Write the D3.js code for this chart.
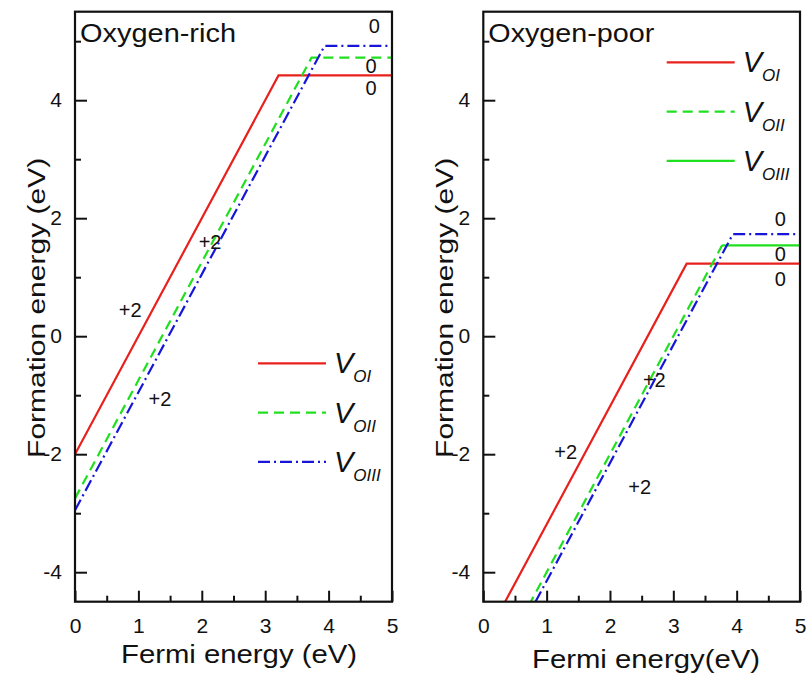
<!DOCTYPE html>
<html>
<head>
<meta charset="utf-8">
<script src="https://cdn.jsdelivr.net/npm/d3@7"></script>
<style>
  body { margin: 0; background: #fff; }
  svg text { font-family: "Liberation Sans", Arial, sans-serif; fill: #111; }
</style>
</head>
<body>
<div id="chart"></div>
<script>
// tick values
const xTicks = [0, 1, 2, 3, 4, 5];
const xMinorTicks = [0.5, 1.5, 2.5, 3.5, 4.5];
const yTicks = [-4, -2, 0, 2, 4];
const yMinorTicks = [-3, -1, 1, 3, 5];

// series labels (subscripts of V)
const seriesNames = ['OI', 'OII', 'OIII'];

// oxygen-rich: [fermi energy, formation energy]
const richOI = [[0, -2.0], [3.21, 4.42], [5, 4.42]];
const richOII = [[0, -2.75], [3.73, 4.72], [5, 4.72]];
const richOIII = [[0, -2.95], [3.935, 4.92], [5, 4.92]];

// oxygen-poor
const poorOI = [[0, -5.19], [3.21, 1.23], [5, 1.23]];
const poorOII = [[0, -6.0], [3.77, 1.54], [5, 1.54]];
const poorOIII = [[0, -6.15], [3.94, 1.73], [5, 1.73]];

// charge state labels [x, y, text]
const richCharges = [[0.87, 0.44, '+2'], [2.13, 1.6, '+2'], [1.34, -1.06, '+2'],
  [4.72, 5.26, '0'], [4.67, 4.58, '0'], [4.67, 4.2, '0']];
const poorCharges = [[1.3, -1.97, '+2'], [2.7, -0.74, '+2'], [2.47, -2.55, '+2'],
  [4.69, 1.98, '0'], [4.69, 1.39, '0'], [4.69, 0.97, '0']];

const W = 806, H = 676;
const colors = ['#e8211d', '#1fe01f', '#1616d8'];

const svg = d3.select('#chart').append('svg')
  .attr('width', W).attr('height', H);

function drawPanel(opts) {
  const x = d3.scaleLinear().domain([0, 5]).range([opts.left, opts.right]);
  const y = d3.scaleLinear().domain([-4.5, 5.5]).range([601.7, 11.7]);
  const g = svg.append('g');

  const clipId = 'clip-' + opts.id;
  svg.append('clipPath').attr('id', clipId)
    .append('rect')
    .attr('x', opts.left).attr('y', 11.7)
    .attr('width', opts.right - opts.left).attr('height', 590);

  const line = d3.line().x(d => x(d[0])).y(d => y(d[1]));
  const plot = g.append('g').attr('clip-path', `url(#${clipId})`);

  opts.series.forEach((pts, i) => {
    const st = opts.styles[i];
    if (st.plateauSolid) {
      plot.append('path').datum(pts.slice(0, 2))
        .attr('d', line).attr('fill', 'none')
        .attr('stroke', colors[i]).attr('stroke-width', 2.2)
        .attr('stroke-dasharray', st.dash);
      plot.append('path').datum(pts.slice(1))
        .attr('d', line).attr('fill', 'none')
        .attr('stroke', colors[i]).attr('stroke-width', 2.2);
    } else {
      plot.append('path').datum(pts)
        .attr('d', line).attr('fill', 'none')
        .attr('stroke', colors[i]).attr('stroke-width', 2.2)
        .attr('stroke-dasharray', st.dash);
    }
  });

  // axes with inward ticks
  const xAxis = g.append('g').attr('transform', `translate(0,${y(-4.5)})`)
    .call(d3.axisBottom(x).tickValues(xTicks).tickSizeInner(-11).tickSizeOuter(0).tickFormat(d => String(d)));
  g.append('g').attr('transform', `translate(0,${y(-4.5)})`)
    .call(d3.axisBottom(x).tickValues(xMinorTicks).tickSizeInner(-6).tickSizeOuter(0).tickFormat(''));
  const yAxis = g.append('g').attr('transform', `translate(${opts.left},0)`)
    .call(d3.axisLeft(y).tickValues(yTicks).tickSizeInner(-12).tickSizeOuter(0).tickFormat(d => String(d)));
  g.append('g').attr('transform', `translate(${opts.left},0)`)
    .call(d3.axisLeft(y).tickValues(yMinorTicks).tickSizeInner(-6).tickSizeOuter(0).tickFormat(''));

  g.selectAll('.domain').remove();
  g.selectAll('.tick line').attr('stroke', '#111').attr('stroke-width', 2);
  xAxis.selectAll('text').attr('font-size', 21).attr('fill', '#111').attr('y', 16);
  yAxis.selectAll('text').attr('font-size', 21).attr('fill', '#111')
    .attr('x', -13).attr('text-anchor', 'end');

  // frame
  g.append('rect')
    .attr('x', opts.left).attr('y', 11.7)
    .attr('width', opts.right - opts.left).attr('height', y(-4.5) - y(5.5))
    .attr('fill', 'none').attr('stroke', '#111').attr('stroke-width', 2.2);

  // panel title
  g.append('text').attr('x', opts.left + 5).attr('y', 42)
    .attr('font-size', 26).attr('textLength', opts.titleLen)
    .attr('lengthAdjust', 'spacingAndGlyphs').text(opts.title);

  // charge labels
  g.selectAll('.charge').data(opts.charges).enter().append('text')
    .attr('x', d => x(d[0])).attr('y', d => y(d[1]))
    .attr('text-anchor', 'middle').attr('dominant-baseline', 'central')
    .attr('font-size', 20).text(d => d[2]);

  // axis titles
  g.append('text')
    .attr('x', opts.xTitleX).attr('y', opts.xTitleY)
    .attr('text-anchor', 'middle').attr('font-size', 26)
    .attr('textLength', opts.xTitleLen).attr('lengthAdjust', 'spacingAndGlyphs')
    .text(opts.xTitle);
  g.append('text')
    .attr('transform', `translate(${opts.left - 30},${y(0.48)}) rotate(-90)`)
    .attr('text-anchor', 'middle').attr('font-size', 23)
    .attr('textLength', 300).attr('lengthAdjust', 'spacingAndGlyphs')
    .text('Formation energy (eV)');

  // legend
  const lg = g.append('g');
  seriesNames.forEach((name, i) => {
    const ly = opts.legendY + i * 49.3;
    const st = opts.legendStyles[i];
    lg.append('line')
      .attr('x1', opts.legendX).attr('x2', opts.legendX + 68)
      .attr('y1', ly).attr('y2', ly)
      .attr('stroke', colors[st.color]).attr('stroke-width', 2.2)
      .attr('stroke-dasharray', st.dash);
    const t = lg.append('text').attr('x', opts.legendX + 76).attr('y', ly + 10)
      .attr('font-size', 29).attr('font-style', 'italic');
    t.append('tspan').text('V');
    t.append('tspan').attr('font-size', 17).attr('dy', 9).text(name);
  });
}

const solidDash = null;
const dashed = '10,6';
const dashDot = '12,4,2,4';

drawPanel({
  id: 'rich', left: 75, right: 392, title: 'Oxygen-rich', titleLen: 156,
  series: [richOI, richOII, richOIII],
  styles: [{ dash: solidDash }, { dash: dashed }, { dash: dashDot }],
  charges: richCharges,
  xTitle: 'Fermi energy (eV)', xTitleX: 239, xTitleY: 663, xTitleLen: 236,
  legendX: 258, legendY: 363.3,
  legendStyles: [{ color: 0, dash: solidDash }, { color: 1, dash: dashed }, { color: 2, dash: dashDot }]
});

drawPanel({
  id: 'poor', left: 483.3, right: 800, title: 'Oxygen-poor', titleLen: 166,
  series: [poorOI, poorOII, poorOIII],
  styles: [{ dash: solidDash }, { dash: dashed, plateauSolid: true }, { dash: dashDot }],
  charges: poorCharges,
  xTitle: 'Fermi energy(eV)', xTitleX: 646, xTitleY: 668, xTitleLen: 228,
  legendX: 666.7, legendY: 62.3,
  legendStyles: [{ color: 0, dash: solidDash }, { color: 1, dash: dashed }, { color: 1, dash: solidDash }]
});
</script>
</body>
</html>
